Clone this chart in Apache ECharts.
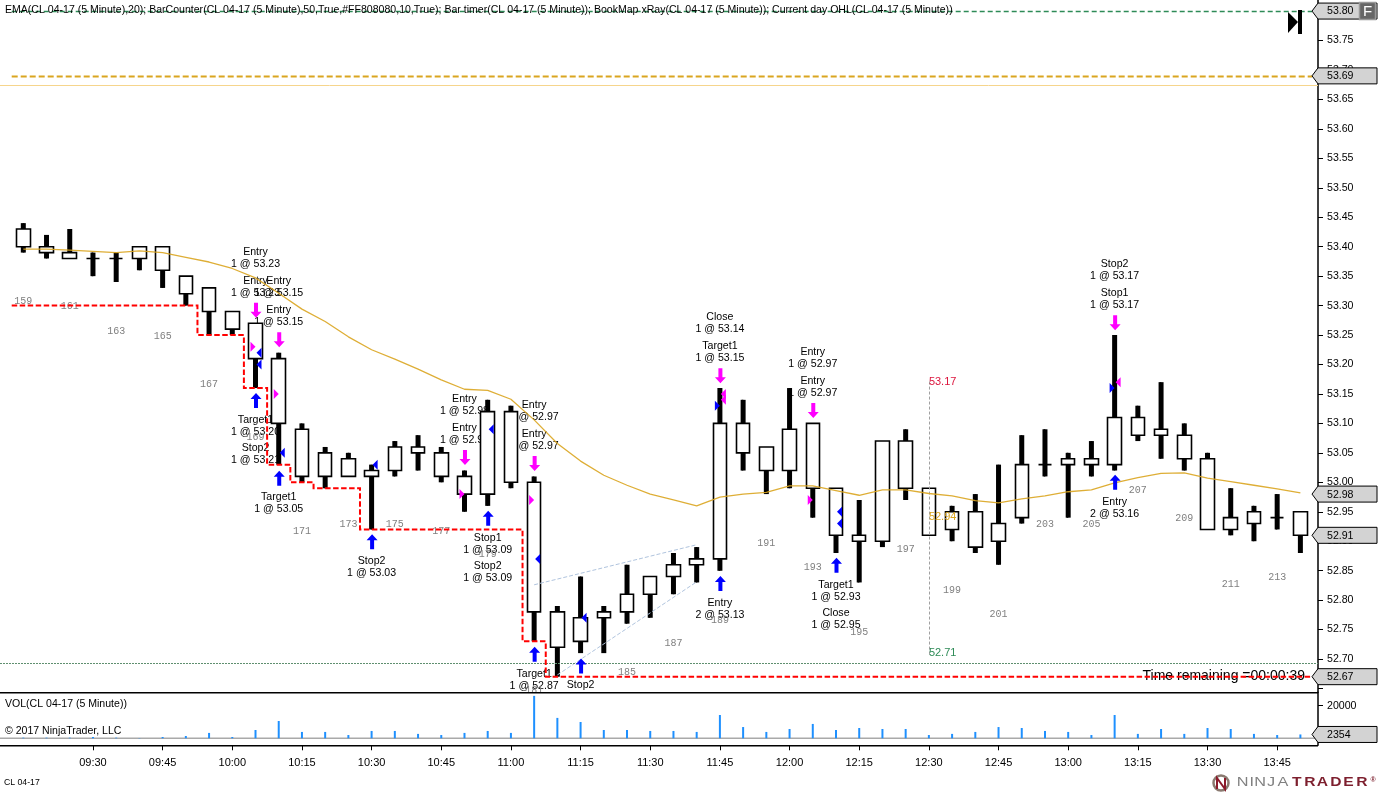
<!DOCTYPE html>
<html><head><meta charset="utf-8">
<style>html,body{margin:0;padding:0;background:#fff}#c{width:1378px;height:792px}</style>
<script src="https://cdn.jsdelivr.net/npm/echarts@6/dist/echarts.min.js"></script></head>
<body><div id="c"></div>
<script>
const categories = ['09:15','09:20','09:25','09:30','09:35','09:40','09:45','09:50','09:55','10:00','10:05','10:10','10:15','10:20','10:25','10:30','10:35','10:40','10:45','10:50','10:55','11:00','11:05','11:10','11:15','11:20','11:25','11:30','11:35','11:40','11:45','11:50','11:55','12:00','12:05','12:10','12:15','12:20','12:25','12:30','12:35','12:40','12:45','12:50','12:55','13:00','13:05','13:10','13:15','13:20','13:25','13:30','13:35','13:40','13:45','13:50'];
const opens  = [53.43,53.40,53.39,53.38,53.38,53.38,53.40,53.35,53.33,53.29,53.27,53.21,53.09,53.01,53.04,53.01,53.02,53.06,53.05,53.01,52.98,53.12,53.00,52.78,52.73,52.77,52.78,52.81,52.84,52.86,52.87,53.10,53.06,53.02,53.10,52.99,52.91,52.90,53.07,52.99,52.92,52.95,52.90,52.94,53.03,53.03,53.04,53.03,53.11,53.08,53.08,53.04,52.92,52.93,52.94,52.95];
const closes = [53.40,53.39,53.38,53.38,53.38,53.40,53.36,53.32,53.29,53.26,53.21,53.10,53.01,53.05,53.01,53.02,53.06,53.05,53.01,52.98,53.12,53.00,52.78,52.72,52.77,52.78,52.81,52.84,52.86,52.87,53.10,53.05,53.02,53.09,52.99,52.91,52.90,53.07,52.99,52.91,52.95,52.89,52.93,53.03,53.03,53.04,53.03,53.11,53.08,53.09,53.04,52.92,52.94,52.95,52.94,52.91];
const highs  = [53.44,53.42,53.43,53.39,53.39,53.40,53.40,53.35,53.33,53.29,53.27,53.22,53.10,53.06,53.05,53.03,53.07,53.08,53.06,53.02,53.14,53.13,53.01,52.79,52.84,52.79,52.86,52.84,52.88,52.89,53.16,53.14,53.06,53.16,53.10,52.99,52.97,53.07,53.09,52.99,52.96,52.98,53.03,53.08,53.09,53.05,53.07,53.25,53.13,53.17,53.10,53.05,52.99,52.96,52.98,52.95];
const lows   = [53.39,53.38,53.38,53.35,53.34,53.36,53.33,53.30,53.25,53.25,53.16,53.03,53.00,52.99,53.01,52.92,53.01,53.02,53.00,52.95,52.96,52.99,52.73,52.67,52.71,52.71,52.76,52.77,52.81,52.83,52.85,53.02,52.98,52.99,52.94,52.88,52.83,52.89,52.97,52.91,52.90,52.88,52.86,52.93,53.01,52.94,53.01,53.02,53.07,53.04,53.02,52.92,52.91,52.90,52.92,52.88];
const emaValues = [53.396,53.396,53.394,53.392,53.390,53.393,53.390,53.382,53.374,53.363,53.347,53.321,53.294,53.273,53.247,53.225,53.209,53.192,53.174,53.158,53.156,53.141,53.106,53.066,53.036,53.012,52.995,52.980,52.970,52.960,52.975,52.980,52.983,52.994,52.994,52.986,52.978,52.987,52.987,52.981,52.977,52.969,52.965,52.972,52.977,52.984,52.987,52.999,53.008,53.015,53.016,53.007,53.001,52.995,52.989,52.982];
const stopLevels = [53.30,53.30,53.30,53.30,53.30,53.30,53.30,53.30,53.25,53.25,53.16,53.03,53.00,52.99,52.99,52.92,52.92,52.92,52.92,52.92,52.92,52.92,52.73,52.67,52.67,52.67,52.67,52.67,52.67,52.67,52.67,52.67,52.67,52.67,52.67,52.67,52.67,52.67,52.67,52.67,52.67,52.67,52.67,52.67,52.67,52.67,52.67,52.67,52.67,52.67,52.67,52.67,52.67,52.67,52.67,52.67];
const volumes = [400,400,400,800,400,200,800,1400,3300,800,5100,10600,3900,3900,2000,4500,4500,2700,2000,3300,4500,3300,26000,12500,10000,5100,5100,4500,4500,3900,14300,6900,3900,5700,8800,5100,6300,5700,5700,2000,2700,3900,6900,6300,4500,3900,2000,14300,2700,5700,2700,6300,5700,2700,2000,2354];
const priceTicks = [52.65,52.70,52.75,52.80,52.85,52.90,52.95,53.00,53.05,53.10,53.15,53.20,53.25,53.30,53.35,53.40,53.45,53.50,53.55,53.60,53.65,53.70,53.75,53.80];
const priceLabels = priceTicks.slice(1);
const volTicks = [20000];
const priceTags = [53.80,53.69,52.98,52.91,52.67];
const volTags = [2354];
const barCounts = [[0,53.308,159],[2,53.298,161],[4,53.257,163],[6,53.248,165],[8,53.167,167],[10,53.077,169],[12,52.917,171],[14,52.928,173],[16,52.928,175],[18,52.917,177],[20,52.877,179],[22,52.647,181],[26,52.677,185],[28,52.727,187],[30,52.766,189],[32,52.897,191],[34,52.856,193],[36,52.746,195],[38,52.887,197],[40,52.817,199],[42,52.776,201],[44,52.928,203],[46,52.928,205],[48,52.987,207],[50,52.938,209],[52,52.827,211],[54,52.838,213]];
const tradeNotes = [
 [10,53.383,'Entry\n1 @ 53.23'],[10,53.333,'Entry\n1 @ 53.23'],[11,53.333,'Entry\n1 @ 53.15'],[11,53.284,'Entry\n1 @ 53.15'],
 [10,53.097,'Target1\n1 @ 53.20'],[10,53.050,'Stop2\n1 @ 53.21'],[11,52.967,'Target1\n1 @ 53.05'],[15,52.858,'Stop2\n1 @ 53.03'],
 [19,53.133,'Entry\n1 @ 52.98'],[19,53.084,'Entry\n1 @ 52.98'],[22,53.123,'Entry\n1 @ 52.97'],[22,53.074,'Entry\n1 @ 52.97'],
 [20,52.897,'Stop1\n1 @ 53.09'],[20,52.849,'Stop2\n1 @ 53.09'],[22,52.666,'Target1\n1 @ 52.87'],[24,52.658,'Stop2'],
 [30,53.272,'Close\n1 @ 53.14'],[30,53.223,'Target1\n1 @ 53.15'],[30,52.787,'Entry\n2 @ 53.13'],
 [34,53.213,'Entry\n1 @ 52.97'],[34,53.164,'Entry\n1 @ 52.97'],[35,52.817,'Target1\n1 @ 52.93'],[35,52.770,'Close\n1 @ 52.95'],
 [47,53.362,'Stop2\n1 @ 53.17'],[47,53.313,'Stop1\n1 @ 53.17'],[47,52.958,'Entry\n2 @ 53.16']
];
const downArrows = [[10,53.292],[11,53.242],[19,53.042],[22,53.032],[30,53.181],[34,53.122],[47,53.271]];
const upArrows = [[10,53.139],[11,53.007],[15,52.899],[20,52.939],[22,52.708],[24,52.688],[30,52.828],[35,52.859],[47,53.000]];
const magentaRight = [[10,53.23],[11,53.15],[19,52.98],[22,52.97],[34,52.97]];
const blueLeft = [[10,53.22],[10,53.20],[11,53.05],[15,53.03],[20,53.09],[22,52.87],[24,52.77],[35,52.95],[35,52.93]];
const blueRight = [[30,53.13],[47,53.16]];
const magentaLeft = [[30,53.15],[30,53.14],[47,53.17]];
const headerText = 'EMA(CL 04-17 (5 Minute),20); BarCounter(CL 04-17 (5 Minute),50,True,#FF808080,10,True); Bar timer(CL 04-17 (5 Minute)); BookMap xRay(CL 04-17 (5 Minute)); Current day OHL(CL 04-17 (5 Minute))';
const ohlNotes = [[39,53.171,'53.17','#dc143c'],[39,52.941,'52.94','#daa520'],[39,52.711,'52.71','#2e8b57']];
const instrument = 'CL 04-17';
const logoNinja = [['N',1242.7],['I',1251.7],['N',1260],['J',1271],['A',1283]];
const logoTrader = [['T',1296.7],['R',1310],['A',1322.5],['D',1336],['E',1348.5],['R',1362]];

const FONT = '"Liberation Sans", Arial, sans-serif';
const AXIS_X = 1318;
const chart = echarts.init(document.getElementById('c'), null, {renderer:'canvas', width:1378, height:792});

function pointsSeries(name, list, z, build, extra){
  return Object.assign({type:'custom', name, xAxisIndex:0, yAxisIndex:0, z, clip:true, silent:true,
    data:list.map(d=>[d[0],d[1]]), encode:{x:0,y:1},
    renderItem:(p,api)=>build(list[p.dataIndex], api.coord([api.value(0),api.value(1)]), api, p)}, extra||{});
}
function arrow(dir,color){
  return (d,c)=>{
    const s=dir; // +1 points down, -1 points up
    const x=c[0]+0.5,y=c[1];
    return {type:'polygon',shape:{points:[
      [x-2,y-s*7.5],[x+2,y-s*7.5],[x+2,y+s*1.5],[x+5.5,y+s*1.5],[x,y+s*7.5],[x-5.5,y+s*1.5],[x-2,y+s*1.5]]},
      style:{fill:color}};
  };
}
function tri(dir,color,off){
  return (d,c)=>{
    const x=c[0]+off,y=c[1];
    return {type:'polygon',shape:{points:[[x-dir*2.5,y-5],[x+dir*2.5,y],[x-dir*2.5,y+5]]},style:{fill:color}};
  };
}
function tagSeries(name,list,xi,yi,decimals){
  return {type:'custom',name,xAxisIndex:xi,yAxisIndex:yi,z:9,clip:false,silent:true,
    data:list.map(v=>[0,v]),encode:{x:0,y:1},
    renderItem:(p,api)=>{
      const y=api.coord([0,api.value(1)])[1];
      const r=p.coordSys.x+p.coordSys.width, L=r+6, R=1377;
      return {type:'group',children:[
        {type:'polygon',shape:{points:[[r,y],[L,y-8],[R,y-8],[R,y+8],[L,y+8]]},style:{fill:'#d3d3d3',stroke:'#000',lineWidth:1}},
        {type:'text',style:{text:decimals?api.value(1).toFixed(decimals):String(api.value(1)),x:1327,y:y+0.5,verticalAlign:'middle',align:'left',font:'10.6px '+FONT,fill:'#000'}}
      ]};
    }};
}
function rule(name,v,color,dash,width,full,z){
  return {type:'custom',name,xAxisIndex:0,yAxisIndex:0,z:z||5,clip:false,silent:true,data:[[0,v]],encode:{x:0,y:1},
    renderItem:(p,api)=>{
      const y=Math.round(api.coord([0,api.value(1)])[1])+0.5;
      const x1=full?0:p.coordSys.x, x2=full?AXIS_X:p.coordSys.x+p.coordSys.width;
      return {type:'line',shape:{x1,y1:y,x2,y2:y},style:{stroke:color,lineWidth:width,lineDash:dash}};
    }};
}

const option = {
  animation:false,
  backgroundColor:'#fff',
  textStyle:{fontFamily:FONT},
  grid:[
    {left:11.7,width:1300.3,top:0,height:692,containLabel:false},
    {left:11.7,width:1300.3,top:692.3,height:53,containLabel:false}
  ],
  xAxis:[
    {type:'category',gridIndex:0,data:categories,show:false},
    {type:'category',gridIndex:1,data:categories,
      axisLine:{show:false,onZero:false},
      axisTick:{show:true,length:5,alignWithLabel:true,interval:i=>i>0&&i%3===0,lineStyle:{color:'#000',width:1}},
      axisLabel:{show:true,interval:i=>i>0&&i%3===0,margin:12,fontSize:11,fontFamily:FONT,color:'#000'}}
  ],
  yAxis:[
    {type:'value',gridIndex:0,position:'right',offset:6,min:52.644,max:53.8188,scale:true,splitLine:{show:false},
      axisLine:{show:true,onZero:false,lineStyle:{color:'#000',width:1.5}},
      axisTick:{show:true,length:5,customValues:priceTicks,lineStyle:{color:'#000',width:1}},
      axisLabel:{show:true,customValues:priceLabels,margin:9,padding:[2,0,0,0],fontSize:10.6,fontFamily:FONT,color:'#000',formatter:v=>v.toFixed(2)}},
    {type:'value',gridIndex:1,position:'right',offset:6,min:-4294,max:28200,splitLine:{show:false},
      axisLine:{show:true,onZero:false,lineStyle:{color:'#000',width:1.5}},
      axisTick:{show:true,length:5,customValues:volTicks,lineStyle:{color:'#000',width:1}},
      axisLabel:{show:true,customValues:volTicks,margin:9,fontSize:10.6,fontFamily:FONT,color:'#000',formatter:v=>String(v)}}
  ],
  series:[
    pointsSeries('notes',tradeNotes,1,(d,c)=>({type:'text',style:{text:d[2],x:c[0],y:c[1]+1,align:'center',verticalAlign:'middle',font:'10.6px '+FONT,lineHeight:12,fill:'#000'}})),
    pointsSeries('barCounter',barCounts,2,(d,c)=>({type:'text',style:{text:String(d[2]),x:c[0],y:c[1],align:'center',verticalAlign:'middle',font:'10px "Liberation Mono", monospace',fill:'#808080'}})),
    {type:'custom',name:'wicks',xAxisIndex:0,yAxisIndex:0,z:3,silent:true,data:categories.map((c,i)=>[i,highs[i],lows[i]]),encode:{x:0,y:[1,2]},
      renderItem:(p,api)=>{
        const a=api.coord([api.value(0),api.value(1)]),b=api.coord([api.value(0),api.value(2)]);
        return {type:'rect',shape:{x:a[0]-2.5,y:a[1],width:5,height:b[1]-a[1]},style:{fill:'#000'}};
      }},
    {type:'candlestick',name:'CL 04-17',xAxisIndex:0,yAxisIndex:0,z:4,barWidth:14,silent:true,
      data:categories.map((c,i)=>[opens[i],closes[i],lows[i],highs[i]]),
      itemStyle:{color:'#fff',color0:'#fff',borderColor:'#000',borderColor0:'#000',borderColorDoji:'#000',borderWidth:1.6}},
    {type:'line',name:'EMA',xAxisIndex:0,yAxisIndex:0,z:5,data:emaValues,showSymbol:false,symbol:'none',smooth:false,silent:true,
      lineStyle:{color:'#daa520',width:1.3,opacity:0.9},
      markLine:{silent:true,symbol:'none',label:{show:false},animation:false,data:[
        [{coord:[22,52.826],lineStyle:{color:'#b0c4de',type:[4,2],width:1}},{coord:[29,52.894]}],
        [{coord:[23,52.673],lineStyle:{color:'#b0c4de',type:[4,2],width:1}},{coord:[29,52.831]}],
        [{coord:[39,53.171],lineStyle:{color:'#a0a0a0',type:[3,2],width:1}},{coord:[39,52.707]}]
      ]}},
    rule('highLine',53.80,'#2e8b57',[5,3],1.5,false),
    rule('openLine',53.69,'#daa520',[6,3],2,false),
    rule('lowRule',52.693,'#5f8f6f',[2,1],1,true),
    rule('paneRule',53.6745,'#f6d58c',null,1,true),
    {type:'custom',name:'stop',xAxisIndex:0,yAxisIndex:0,z:6,clip:true,silent:true,data:stopLevels.map((v,i)=>[i,v]),encode:{x:0,y:1},
      renderItem:(p,api)=>{
        if(p.dataIndex!==0) return null;
        const w=api.size([1,0])[0], pts=[];
        stopLevels.forEach((v,i)=>{const c=api.coord([i,v]);pts.push([c[0]-w/2,c[1]],[c[0]+w/2,c[1]]);});
        return {type:'polyline',shape:{points:pts},style:{stroke:'#ff0000',lineWidth:2,lineDash:[5.5,2.5],fill:null}};
      }},
    pointsSeries('exitMarks',downArrows,7,arrow(1,'#ff00ff')),
    pointsSeries('entryMarks',upArrows,7,arrow(-1,'#0000ff')),
    pointsSeries('magentaR',magentaRight,7,tri(1,'#ff00ff',-2.5)),
    pointsSeries('blueL',blueLeft,7,tri(-1,'#0000ff',3.5)),
    pointsSeries('blueR',blueRight,7,tri(1,'#0000ff',-2.5)),
    pointsSeries('magentaL',magentaLeft,7,tri(-1,'#ff00ff',3.5)),
    pointsSeries('ohl',ohlNotes,7,(d,c)=>({type:'text',style:{text:d[2],x:c[0],y:c[1],align:'left',verticalAlign:'middle',font:'11px '+FONT,fill:d[3]}}),{clip:false}),
    tagSeries('priceTags',priceTags,0,0,2),
    {type:'bar',name:'VOL',xAxisIndex:1,yAxisIndex:1,z:3,data:volumes,barWidth:2,silent:true,itemStyle:{color:'#1e90ff'}},
    tagSeries('volTags',volTags,1,1,0),
    {type:'custom',name:'volZero',xAxisIndex:1,yAxisIndex:1,z:2,clip:false,silent:true,data:[[0,0]],encode:{x:0,y:1},
      renderItem:(p,api)=>{const y=api.coord([0,0])[1];
        return {type:'line',shape:{x1:0,y1:y,x2:AXIS_X,y2:y},style:{stroke:'#a9a9a9',lineWidth:1.5}};}}
  ],
  graphic:{elements:[
    {type:'text',silent:true,z:8,style:{text:headerText,x:5,y:10.5,verticalAlign:'middle',font:'10.55px '+FONT,fill:'#000'}},
    {type:'text',silent:true,z:8,style:{text:'VOL('+instrument+' (5 Minute))',x:5,y:704.5,verticalAlign:'middle',font:'10.55px '+FONT,fill:'#000'}},
    {type:'text',silent:true,z:8,style:{text:'\u00a9 2017 NinjaTrader, LLC',x:5,y:731.5,verticalAlign:'middle',font:'10.55px '+FONT,fill:'#000'}},
    {type:'text',silent:true,z:8,style:{text:instrument,x:4,y:783,verticalAlign:'middle',font:'8.7px '+FONT,fill:'#000'}},
    {type:'text',silent:true,z:5,style:{text:'Time remaining =00:00:39',x:1305,y:676,align:'right',verticalAlign:'middle',font:'14px '+FONT,fill:'#000'}},
    {type:'rect',silent:true,z:10,shape:{x:0,y:692,width:AXIS_X,height:1.5},style:{fill:'#000'}},
    {type:'rect',silent:true,z:10,shape:{x:0,y:745,width:AXIS_X,height:1.5},style:{fill:'#000'}},
    {type:'polygon',silent:true,z:10,shape:{points:[[1288,12],[1298,22],[1288,33]]},style:{fill:'#000'}},
    {type:'rect',silent:true,z:10,shape:{x:1298,y:10,width:4,height:24},style:{fill:'#000'}},
    {type:'rect',silent:true,z:11,shape:{x:1359.5,y:2.5,width:16,height:17},style:{fill:'#666',stroke:'#999',lineWidth:1.5}},
    {type:'text',silent:true,z:12,style:{text:'F',x:1367.5,y:11.5,align:'center',verticalAlign:'middle',font:'15px '+FONT,fill:'#fff'}},
    {type:'circle',silent:true,z:10,shape:{cx:1221,cy:783,r:7.5},style:{fill:'none',stroke:'#8a7a70',lineWidth:2.5}},
    {type:'polyline',silent:true,z:10,shape:{points:[[1217,789],[1217,778],[1225,789],[1225,778]]},style:{fill:'none',stroke:'#8b1a2b',lineWidth:2}},
    ...logoNinja.map(l=>({type:'text',silent:true,z:10,x:l[1],y:782.5,scaleX:1.3,style:{text:l[0],x:0,y:0,align:'center',verticalAlign:'middle',font:'12.5px '+FONT,fill:'#808080'}})),
    ...logoTrader.map(l=>({type:'text',silent:true,z:10,x:l[1],y:782.5,scaleX:1.25,style:{text:l[0],x:0,y:0,align:'center',verticalAlign:'middle',font:'bold 12.5px '+FONT,fill:'#7d1f2e'}})),
    {type:'text',silent:true,z:10,style:{text:'\u00ae',x:1373,y:780,align:'center',verticalAlign:'middle',font:'bold 7px '+FONT,fill:'#7d1f2e'}}
  ]}
};
chart.setOption(option);
</script></body></html>
